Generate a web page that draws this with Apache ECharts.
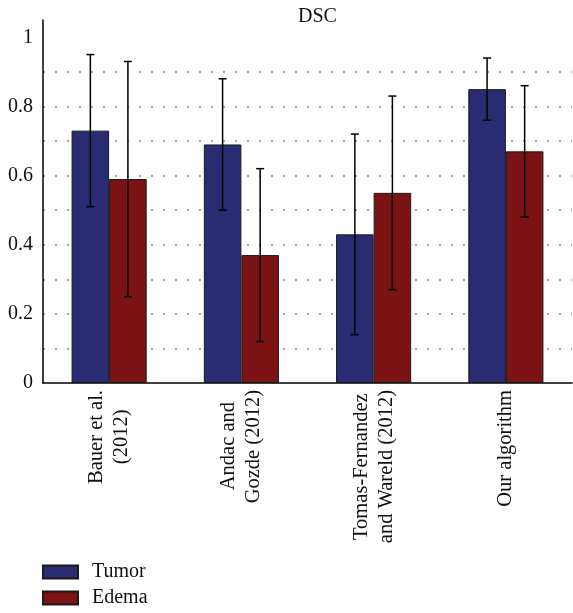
<!DOCTYPE html>
<html>
<head>
<meta charset="utf-8">
<script src="https://cdn.jsdelivr.net/npm/echarts@6/dist/echarts.min.js"></script>
<style>html,body{margin:0;padding:0;background:#fff;}#c{width:573px;height:613px;}</style>
</head>
<body>
<div id="c"></div>
<script>
const categories = ['Bauer et al.\n(2012)', 'Andac and\nGozde (2012)', 'Tomas-Fernandez\nand Wareld (2012)', 'Our algorithm'];
const tumorMean = [0.73, 0.69, 0.43, 0.85];
const tumorLow  = [0.51, 0.50, 0.14, 0.76];
const tumorHigh = [0.95, 0.88, 0.72, 0.94];
const edemaMean = [0.59, 0.37, 0.55, 0.67];
const edemaLow  = [0.25, 0.12, 0.27, 0.48];
const edemaHigh = [0.93, 0.62, 0.83, 0.86];
const gridValues = [0.1, 0.2, 0.3, 0.4, 0.5, 0.6, 0.7, 0.8, 0.9];

const FONT = 'Liberation Serif';
const XFS = 20.5;
const BAR_FRAC = 0.284;
const chart = echarts.init(document.getElementById('c'));

// Center lines of each (right-aligned, rotated) label by trailing space padding
const ctx = document.createElement('canvas').getContext('2d');
ctx.font = XFS + 'px "' + FONT + '"';
const SPACES = ['\u2002', '\u0020', '\u2009', '\u200A'];
const spaceW = SPACES.map(s => ctx.measureText(s).width);
function padTo(px) {
  let out = '', rest = px;
  SPACES.forEach((s, i) => {
    if (spaceW[i] <= 0) return;
    while (rest >= spaceW[i] - 0.6) { out += s; rest -= spaceW[i]; }
  });
  return out;
}
const labelMap = {};
categories.forEach(cat => {
  const lines = cat.split('\n');
  const w = lines.map(l => ctx.measureText(l).width);
  const maxW = Math.max.apply(null, w);
  labelMap[cat] = lines.map((l, i) => l + padTo((maxW - w[i]) / 2)).join('\n');
});

function errorSeries(low, high, sign) {
  return {
    type: 'custom',
    silent: true,
    z: 5,
    data: low.map((l, i) => [i, l, high[i]]),
    renderItem: function (params, api) {
      const band = api.size([1, 0])[0];
      const off = sign * band * BAR_FRAC / 2;
      const p1 = api.coord([api.value(0), api.value(1)]);
      const p2 = api.coord([api.value(0), api.value(2)]);
      const x = p1[0] + off;
      const cap = 4;
      const st = { stroke: '#000', lineWidth: 1.5 };
      return {
        type: 'group',
        children: [
          { type: 'line', shape: { x1: x, y1: p1[1], x2: x, y2: p2[1] }, style: st },
          { type: 'line', shape: { x1: x - cap, y1: p1[1], x2: x + cap, y2: p1[1] }, style: st },
          { type: 'line', shape: { x1: x - cap, y1: p2[1], x2: x + cap, y2: p2[1] }, style: st }
        ]
      };
    }
  };
}

chart.setOption({
  animation: false,
  title: {
    text: 'DSC', left: 293, top: 2,
    textStyle: { fontFamily: FONT, fontSize: 20, fontWeight: 'normal', color: '#111' }
  },
  legend: {
    orient: 'vertical', left: 42, top: 562, height: 60, padding: 0,
    itemWidth: 35, itemHeight: 13, itemGap: 6,
    icon: 'rect',
    data: ['Tumor', 'Edema'],
    textStyle: { fontFamily: FONT, fontSize: 20, color: '#111', padding: [0, 0, 0, 9] }
  },
  grid: { left: 43, right: 1, top: 20, bottom: 230, containLabel: false, outerBoundsMode: 'none' },
  xAxis: {
    type: 'category',
    data: categories,
    axisTick: { show: false },
    axisLine: { lineStyle: { color: '#000', width: 1.5 } },
    axisLabel: {
      rotate: 90, margin: 7, interval: 0,
      fontFamily: FONT, fontSize: XFS, color: '#111', lineHeight: 25,
      formatter: function (v) { return labelMap[v]; }
    }
  },
  yAxis: {
    type: 'value', min: 0, max: 1.05, interval: 0.2,
    axisLine: { show: true, lineStyle: { color: '#000', width: 1.5 } },
    axisTick: { show: false },
    splitLine: { show: false },
    axisLabel: { margin: 10, fontFamily: FONT, fontSize: 20, color: '#111' }
  },
  series: [
    {
      name: 'Tumor', type: 'bar', data: tumorMean,
      barWidth: (BAR_FRAC * 100) + '%', barGap: '0%',
      itemStyle: { color: '#292b73', borderColor: '#1a1a1a', borderWidth: 1 },
      markLine: {
        silent: true, symbol: 'none', label: { show: false },
        lineStyle: { color: '#8a8a8a', type: [2, 10], width: 1.5 },
        data: gridValues.map(v => ({ yAxis: v })),
        z: 0
      },
      z: 2
    },
    {
      name: 'Edema', type: 'bar', data: edemaMean,
      barWidth: (BAR_FRAC * 100) + '%', barGap: '0%',
      itemStyle: { color: '#7b1315', borderColor: '#1a1a1a', borderWidth: 1 },
      z: 2
    },
    errorSeries(tumorLow, tumorHigh, -1),
    errorSeries(edemaLow, edemaHigh, 1)
  ]
});
</script>
</body>
</html>
